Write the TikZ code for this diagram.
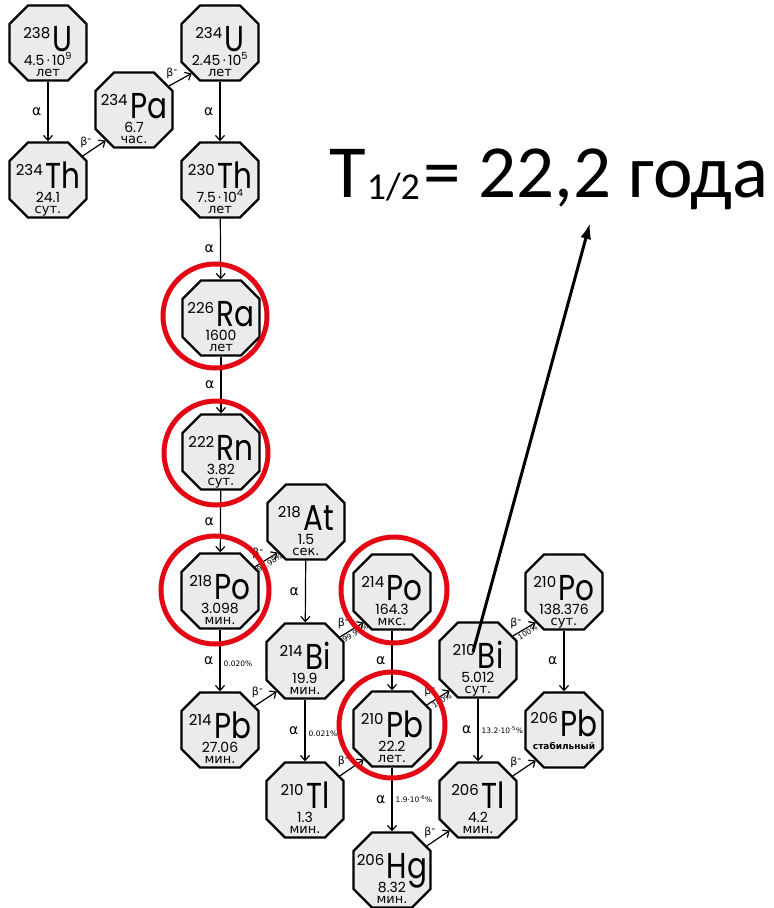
\documentclass[tikz,border=0pt]{standalone}
\usepackage{fontspec}
\usetikzlibrary{arrows.meta,calc}
\newfontfamily\symfam{Poppins}[FakeStretch=0.82]
\newfontfamily\numfam{Poppins}
\newfontfamily\cyrfam{DejaVu Sans}
\newfontfamily\ttlfam{Carlito}
\definecolor{octfill}{HTML}{EBEBEB}
\definecolor{ringred}{HTML}{E30613}
\tikzset{
 box/.style={rectangle, draw=none, minimum width=77pt, minimum height=75pt, inner sep=0pt},
 octline/.style={draw=black, line width=2.2pt, fill=octfill, line join=miter},
 symtxt/.style={anchor=base, inner sep=0pt, font=\symfam\fontsize{36}{36}\selectfont},
 hltxt/.style={anchor=base, inner sep=0pt, font=\numfam\fontsize{14}{14}\selectfont},
 untxt/.style={anchor=base, inner sep=0pt, font=\cyrfam\fontsize{13}{13}\selectfont},
 stabtxt/.style={anchor=base, inner sep=0pt, font=\cyrfam\bfseries\fontsize{9}{9}\selectfont},
 decay/.style={line width=1.2pt, -{Straight Barb[length=5pt,width=9pt]}, shorten <=1pt, shorten >=1pt},
 alab/.style={font=\cyrfam\fontsize{14}{14}\selectfont, inner sep=0pt},
 blab/.style={font=\cyrfam\fontsize{11}{11}\selectfont, inner sep=1pt, anchor=south east},
 plab/.style={font=\cyrfam\fontsize{7.5}{7.5}\selectfont, inner sep=1pt},
 ring/.style={draw=ringred, line width=5pt},
}
\newcommand\masssup[1]{\raisebox{13pt}{\numfam\fontsize{15}{15}\selectfont #1}\kern2.5pt}
\newcommand\octo[3]{%
 \node[box] (#1) at (#2,#3) {};
 \draw[octline] (#2-38.5,#3-19) -- (#2-20,#3-37.5) -- (#2+20,#3-37.5) -- (#2+38.5,#3-19)
   -- (#2+38.5,#3+19) -- (#2+20,#3+37.5) -- (#2-20,#3+37.5) -- (#2-38.5,#3+19) -- cycle;
 \coordinate (#1-ne) at (#2+34,#3-23.5);
 \coordinate (#1-sw) at (#2-27.5,#3+30);
}
\newcommand\iso[7]{%
 \octo{#1}{#2}{#3}
 \node[symtxt] (#1-s) at (#2,#3+8.5) {\masssup{#4}#5};
 \node[hltxt] (#1-h) at (#2,#3+22) {#6};
 \node[untxt] (#1-u) at (#2,#3+33) {#7};
}
\newcommand\bm{β\raisebox{3pt}{-}}
\begin{document}
\begin{tikzpicture}[x=1pt,y=-1pt]
\useasboundingbox (0,0) rectangle (774,908);
\fill[white] (0,0) rectangle (774,908);
% isotopes
\iso{U238}{48}{43}{238}{U}{4.5\,·\,10\textsuperscript{9}}{лет}
\iso{Th234}{48}{180}{234}{Th}{24.1}{сут.}
\iso{Pa234}{134}{110}{234}{Pa}{6.7}{час.}
\iso{U234}{220}{43}{234}{U}{2.45\,·\,10\textsuperscript{5}}{лет}
\iso{Th230}{220}{180}{230}{Th}{7.5\,·\,10\textsuperscript{4}}{лет}
\iso{Ra226}{221}{318}{226}{Ra}{1600}{лет}
\iso{Rn222}{221}{452}{222}{Rn}{3.82}{сут.}
\iso{Po218}{220}{591}{218}{Po}{3.098}{мин.}
\iso{At218}{306}{522}{218}{At}{1.5}{сек.}
\iso{Po214}{392}{592}{214}{Po}{164.3}{мкс.}
\iso{Bi214}{305}{661}{214}{Bi}{19.9}{мин.}
\iso{Pb214}{220}{730}{214}{Pb}{27.06}{мин.}
\iso{Tl210}{305}{800}{210}{Tl}{1.3}{мин.}
\iso{Pb210}{392}{729}{210}{Pb}{22.2}{лет.}
\iso{Hg206}{392}{870}{206}{Hg}{8.32}{мин.}
\iso{Bi210}{478}{660}{210}{Bi}{5.012}{сут.}
\iso{Po210}{564}{592}{210}{Po}{138.376}{сут.}
\iso{Tl206}{478}{800}{206}{Tl}{4.2}{мин.}
\octo{Pb206}{564}{730}
\node[symtxt] (Pb206-s) at (564,736) {\masssup{206}Pb};
\node[stabtxt] (Pb206-u) at (564,749) {стабильный};
% alpha decays
\draw[decay] (U238) -- node[alab, left=6pt] (a1) {α} (Th234);
\draw[decay] (U234) -- node[alab, left=6pt] (a2) {α} (Th230);
\draw[decay] (Th230) -- node[alab, left=6pt] (a3) {α} (Ra226);
\draw[decay] (Ra226) -- node[alab, left=6pt] (a4) {α} (Rn222);
\draw[decay] (Rn222) -- node[alab, left=6pt] (a5) {α} (Po218);
\draw[decay] (Po218) -- node[alab, left=6pt] (a6) {α} node[plab, right=2pt, pos=0.55] (p6) {0.020\%} (Pb214);
\draw[decay] (At218) -- node[alab, left=6pt] (a7) {α} (Bi214);
\draw[decay] (Bi214) -- node[alab, left=6pt] (a8) {α} node[plab, right=2pt, pos=0.55] (p8) {0.021\%} (Tl210);
\draw[decay] (Po214) -- node[alab, left=6pt] (a9) {α} (Pb210);
\draw[decay] (Pb210) -- node[alab, left=6pt] (a10) {α} node[plab, right=2pt, pos=0.5] (p10) {1.9·10\textsuperscript{-6}\%} (Hg206);
\draw[decay] (Bi210) -- node[alab, left=6pt] (a11) {α} node[plab, right=2pt, pos=0.5] (p11) {13.2·10\textsuperscript{-5}\%} (Tl206);
\draw[decay] (Po210) -- node[alab, left=6pt] (a12) {α} (Pb206);
% beta decays
\draw[decay] (Th234-ne) -- node[blab, pos=0.45] (b1) {\bm} (Pa234-sw);
\draw[decay] (Pa234-ne) -- node[blab, pos=0.45] (b2) {\bm} (U234-sw);
\draw[decay] (Po218-ne) -- node[blab, pos=0.45] (b3) {\bm} node[plab, sloped, below, pos=0.55] (p3) {99.98\%} (At218-sw);
\draw[decay] (Pb214-ne) -- node[blab, pos=0.45] (b4) {\bm} (Bi214-sw);
\draw[decay] (Bi214-ne) -- node[blab, pos=0.45] (b5) {\bm} node[plab, sloped, below, pos=0.55] (p5) {99.97\%} (Po214-sw);
\draw[decay] (Tl210-ne) -- node[blab, pos=0.45] (b6) {\bm} (Pb210-sw);
\draw[decay] (Pb210-ne) -- node[blab, pos=0.45] (b7) {\bm} node[plab, sloped, below, pos=0.55] (p7) {100\%} (Bi210-sw);
\draw[decay] (Hg206-ne) -- node[blab, pos=0.45] (b8) {\bm} (Tl206-sw);
\draw[decay] (Bi210-ne) -- node[blab, pos=0.45] (b9) {\bm} node[plab, sloped, below, pos=0.55] (p9) {100\%} (Po210-sw);
\draw[decay] (Tl206-ne) -- node[blab, pos=0.45] (b10) {\bm} (Pb206-sw);
% title and pointer
\node[anchor=base west, inner sep=0pt, font=\ttlfam\fontsize{75}{75}\selectfont] (title) at (329,197) {T\kern1pt\raisebox{-2pt}{\fontsize{38}{38}\selectfont 1/2}\kern4pt= 22,2 года};
\coordinate (arrS) at (473,652);
\coordinate (arrE) at (590,223);
\draw[line width=3pt, -{Latex[length=16pt,width=11pt]}] (arrS) -- (arrE);
% red rings
\draw[ring] (215,316) circle[radius=52pt];
\draw[ring] (216,453) circle[radius=52pt];
\draw[ring] (215,590) circle[radius=54pt];
\draw[ring] (394,590) circle[radius=53pt];
\draw[ring] (392,725) circle[radius=53pt];
\end{tikzpicture}
\end{document}
